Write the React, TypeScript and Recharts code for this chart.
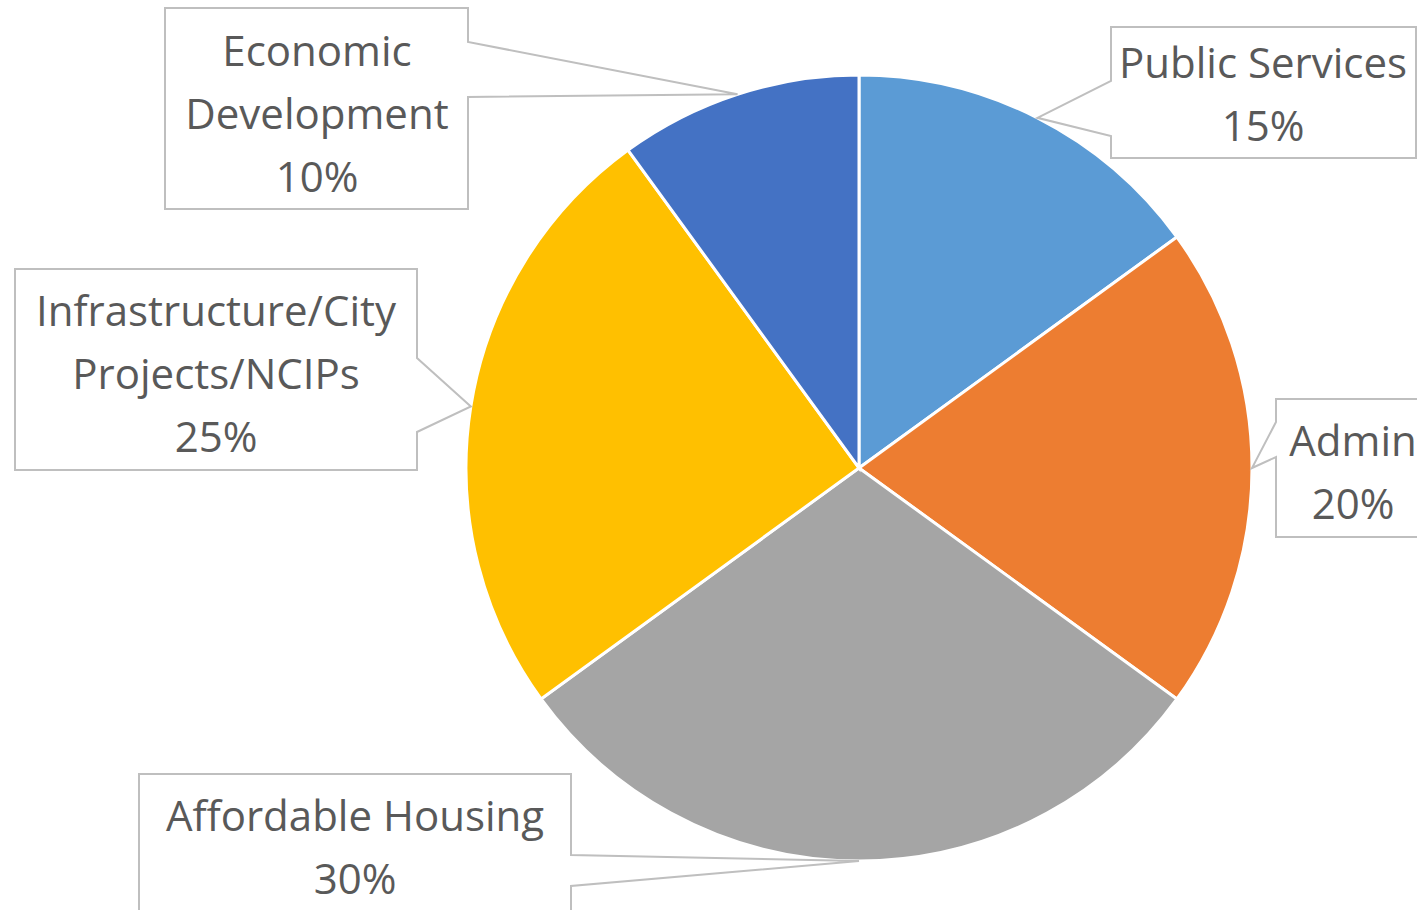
import React from "react";
import { PieChart, Pie, Cell } from "recharts";

const categories = [
  "Public Services",
  "Admin",
  "Affordable Housing",
  "Infrastructure/City Projects/NCIPs",
  "Economic Development",
];
const categoryLines = [
  ["Public Services"],
  ["Admin"],
  ["Affordable Housing"],
  ["Infrastructure/City", "Projects/NCIPs"],
  ["Economic", "Development"],
];
const shares = [15, 20, 30, 25, 10];
const colors = ["#5B9BD5", "#ED7D31", "#A5A5A5", "#FFC000", "#4472C4"];

const data = categories.map((name, i) => ({ name, value: shares[i] }));

// callout box placement: box rect, side of the pointer, pointer base, first text line
const callouts = [
  { x0: 1111, y0: 27, x1: 1416, y1: 158, side: "left", b1: 81, b2: 136, tx: 1263, ty: 61 },
  { x0: 1276, y0: 399, x1: 1440, y1: 537, side: "left", b1: 422, b2: 457, tx: 1353, ty: 439 },
  { x0: 139, y0: 774, x1: 571, y1: 940, side: "right", b1: 855, b2: 886, tx: 355, ty: 814 },
  { x0: 15, y0: 269, x1: 417, y1: 470, side: "right", b1: 358, b2: 432, tx: 216, ty: 309 },
  { x0: 165, y0: 8, x1: 468, y1: 209, side: "right", b1: 42, b2: 97, tx: 317, ty: 49 },
];

const RAD = Math.PI / 180;
const FONT = "'Segoe UI', 'Open Sans', 'Noto Sans', sans-serif";

const renderCallout = (props: any) => {
  const { cx, cy, midAngle, outerRadius, index, percent } = props;
  const c = callouts[index];
  const ax = cx + outerRadius * Math.cos(-midAngle * RAD);
  const ay = cy + outerRadius * Math.sin(-midAngle * RAD);
  const d =
    c.side === "right"
      ? `M${c.x0},${c.y0} H${c.x1} V${c.b1} L${ax},${ay} L${c.x1},${c.b2} V${c.y1} H${c.x0} Z`
      : `M${c.x0},${c.y0} H${c.x1} V${c.y1} H${c.x0} V${c.b2} L${ax},${ay} L${c.x0},${c.b1} Z`;
  const lines = [...categoryLines[index], `${Math.round(percent * 100)}%`];
  return (
    <g key={`callout-${index}`}>
      <path d={d} fill="#FFFFFF" stroke="#BFBFBF" strokeWidth={2} />
      {lines.map((t, j) => (
        <text
          key={j}
          x={c.tx}
          y={c.ty + j * 63}
          textAnchor="middle"
          dominantBaseline="central"
          fill="#595959"
          fontSize={42}
          fontFamily={FONT}
        >
          {t}
        </text>
      ))}
    </g>
  );
};

export default function App() {
  return (
    <div style={{ position: "absolute", left: 0, top: 0, background: "#fff" }}>
      <PieChart width={1417} height={910} margin={{ top: 0, right: 0, bottom: 0, left: 0 }}>
        <Pie
          data={data}
          dataKey="value"
          nameKey="name"
          cx={859}
          cy={468}
          outerRadius={393}
          startAngle={90}
          endAngle={-270}
          stroke="#FFFFFF"
          strokeWidth={3}
          label={renderCallout}
          labelLine={false}
          isAnimationActive={false}
        >
          {data.map((d, i) => (
            <Cell key={d.name} fill={colors[i]} />
          ))}
        </Pie>
      </PieChart>
    </div>
  );
}
